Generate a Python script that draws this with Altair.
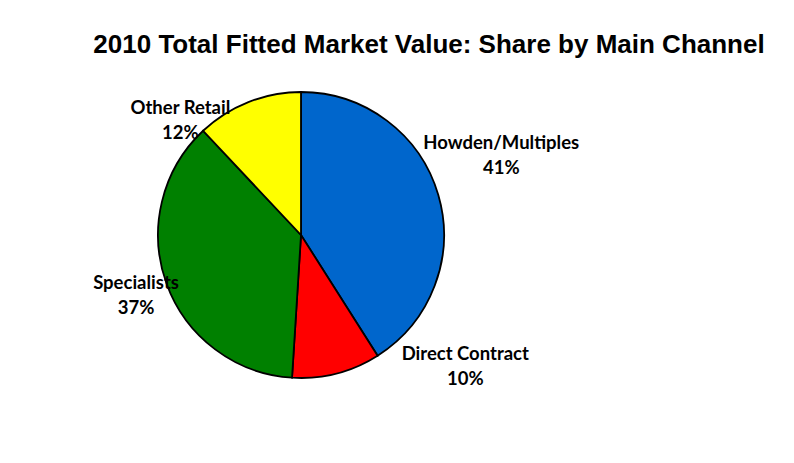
import altair as alt
import pandas as pd

categories = ["Howden/Multiples", "Direct Contract", "Specialists", "Other Retail"]
shares = [41, 10, 37, 12]
colors = ["#0066CC", "#FF0000", "#008000", "#FFFF00"]
title_text = "2010 Total Fitted Market Value: Share by Main Channel"

df = pd.DataFrame({
    "category": categories,
    "share": shares,
    "idx": list(range(len(categories))),
})
df["label"] = df["category"] + "\n" + df["share"].astype(str) + "%"

CX, CY, R = 293, 227, 143

pie = alt.Chart(df).mark_arc(outerRadius=R, stroke="black", strokeWidth=1.8).encode(
    theta=alt.Theta("share:Q", stack=True),
    order=alt.Order("idx:O"),
    x=alt.value(CX), y=alt.value(CY),
    color=alt.Color("category:N", scale=alt.Scale(domain=categories, range=colors), legend=None),
)

offsets = {
    "Howden/Multiples": (37, -45),
    "Direct Contract": (122, -46),
    "Specialists": (-5, -10),
    "Other Retail": (-58, 31),
}

lab_base = alt.Chart(df).transform_window(
    cum="sum(share)", sort=[alt.SortField("idx")]
).transform_calculate(
    mid="datum.cum - datum.share / 2"
)

layers = [pie]
for cat in categories:
    dx, dy = offsets[cat]
    layers.append(
        lab_base.transform_filter(alt.datum.category == cat).mark_text(
            font="Lato", fontWeight="bold", fontSize=18.5, color="black",
            align="center", baseline="middle", lineBreak="\n", lineHeight=25,
            dx=dx, dy=dy,
        ).encode(
            theta=alt.Theta("mid:Q", stack=False, scale=alt.Scale(domain=[0, 100])),
            x=alt.value(CX), y=alt.value(CY), radius=alt.value(170),
            text="label:N",
        )
    )

title = alt.Chart(pd.DataFrame({"t": [title_text]})).mark_text(
    font="Liberation Sans", fontWeight="bold", fontSize=26, color="black",
    align="center", baseline="middle",
).encode(x=alt.value(421), y=alt.value(37), text="t:N")
layers.append(title)

chart = alt.layer(*layers).properties(
    width=778, height=447,
    autosize=alt.AutoSizeParams(type="none"),
    padding=0,
).configure_view(stroke=None)

chart.save("out.html", embed_options={"renderer": "svg", "actions": False})
